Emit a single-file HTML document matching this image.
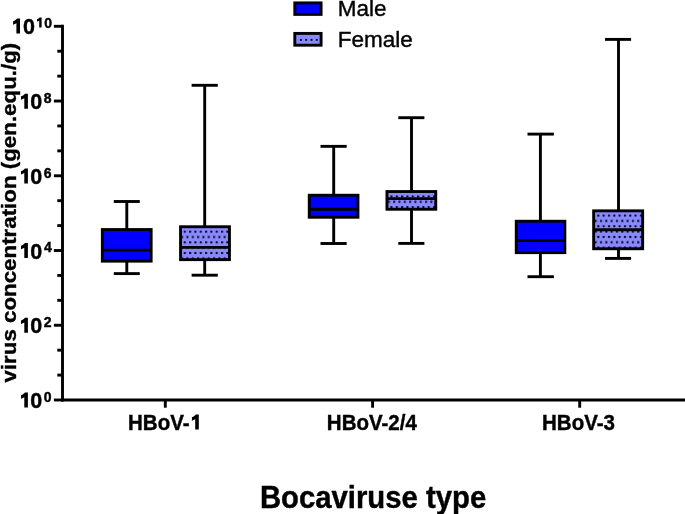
<!DOCTYPE html>
<html><head><meta charset="utf-8"><style>
html,body{margin:0;padding:0;background:#fff;}
svg{display:block;}
text{font-family:"Liberation Sans",sans-serif;fill:#000;stroke:#000;stroke-width:0.4px;}
.b0{font-weight:bold;font-size:21.5px;}
.sp{font-weight:bold;font-size:14.0px;}
.xl{font-weight:bold;font-size:20.5px;}
.tt{font-weight:bold;font-size:29.3px;}
.yt{font-weight:bold;font-size:22.33px;}
.lg{font-size:22.5px;}
</style></head><body>
<svg width="685" height="514" viewBox="0 0 685 514">
<defs><pattern id="p1" patternUnits="userSpaceOnUse" x="182.80" y="229.70" width="5.32" height="10.66"><rect width="5.32" height="10.66" fill="#8989ff"/><rect x="1" y="1" width="2" height="2" fill="#000"/><rect x="-1.660" y="6.330" width="2" height="2" fill="#000"/><rect x="3.660" y="6.330" width="2" height="2" fill="#000"/></pattern><pattern id="p3" patternUnits="userSpaceOnUse" x="389.50" y="194.50" width="5.32" height="10.66"><rect width="5.32" height="10.66" fill="#8989ff"/><rect x="1" y="1" width="2" height="2" fill="#000"/><rect x="-1.660" y="6.330" width="2" height="2" fill="#000"/><rect x="3.660" y="6.330" width="2" height="2" fill="#000"/></pattern><pattern id="p5" patternUnits="userSpaceOnUse" x="596.35" y="213.60" width="5.32" height="10.66"><rect width="5.32" height="10.66" fill="#8989ff"/><rect x="1" y="1" width="2" height="2" fill="#000"/><rect x="-1.660" y="6.330" width="2" height="2" fill="#000"/><rect x="3.660" y="6.330" width="2" height="2" fill="#000"/></pattern>

</defs>
<g stroke="#000" stroke-width="2.9" fill="none">
<line x1="62.5" y1="24.85" x2="62.5" y2="401.45" />
<line x1="61.05" y1="400.0" x2="685" y2="400.0" />
<line x1="53.9" y1="26.30" x2="62.5" y2="26.30" />
<line x1="57.3" y1="51.21" x2="62.5" y2="51.21" />
<line x1="57.3" y1="76.13" x2="62.5" y2="76.13" />
<line x1="53.9" y1="101.04" x2="62.5" y2="101.04" />
<line x1="57.3" y1="125.95" x2="62.5" y2="125.95" />
<line x1="57.3" y1="150.87" x2="62.5" y2="150.87" />
<line x1="53.9" y1="175.78" x2="62.5" y2="175.78" />
<line x1="57.3" y1="200.69" x2="62.5" y2="200.69" />
<line x1="57.3" y1="225.61" x2="62.5" y2="225.61" />
<line x1="53.9" y1="250.52" x2="62.5" y2="250.52" />
<line x1="57.3" y1="275.43" x2="62.5" y2="275.43" />
<line x1="57.3" y1="300.35" x2="62.5" y2="300.35" />
<line x1="53.9" y1="325.26" x2="62.5" y2="325.26" />
<line x1="57.3" y1="350.17" x2="62.5" y2="350.17" />
<line x1="57.3" y1="375.09" x2="62.5" y2="375.09" />
<line x1="53.9" y1="400.00" x2="62.5" y2="400.00" />
<line x1="165.3" y1="400.0" x2="165.3" y2="407.7" />
<line x1="372.6" y1="400.0" x2="372.6" y2="407.7" />
<line x1="579.7" y1="400.0" x2="579.7" y2="407.7" />
</g>
<g stroke="#000" stroke-width="2.9">
<line x1="126.8" y1="201.5" x2="126.8" y2="229.55" />
<line x1="126.8" y1="261.15" x2="126.8" y2="273.6" />
<line x1="113.8" y1="201.5" x2="139.8" y2="201.5" />
<line x1="113.8" y1="273.6" x2="139.8" y2="273.6" />
<rect x="102.35" y="229.55" width="48.80" height="31.60" fill="#0000ff" />
<line x1="102.35" y1="250.1" x2="151.15" y2="250.1" />
<line x1="204.7" y1="85.3" x2="204.7" y2="226.75" />
<line x1="204.7" y1="259.65" x2="204.7" y2="275.2" />
<line x1="191.6" y1="85.3" x2="217.8" y2="85.3" />
<line x1="191.6" y1="275.2" x2="217.8" y2="275.2" />
<rect x="180.55" y="226.75" width="48.90" height="32.90" fill="url(#p1)" />
<line x1="180.55" y1="247.4" x2="229.45" y2="247.4" />
<line x1="333.7" y1="146.35" x2="333.7" y2="195.25" />
<line x1="333.7" y1="217.25" x2="333.7" y2="243.5" />
<line x1="320.5" y1="146.35" x2="346.7" y2="146.35" />
<line x1="320.5" y1="243.5" x2="346.7" y2="243.5" />
<rect x="309.25" y="195.25" width="48.70" height="22.00" fill="#0000ff" />
<line x1="309.25" y1="209.3" x2="357.95" y2="209.3" />
<line x1="411.5" y1="117.7" x2="411.5" y2="191.55" />
<line x1="411.5" y1="209.25" x2="411.5" y2="243.4" />
<line x1="398.3" y1="117.7" x2="424.4" y2="117.7" />
<line x1="398.3" y1="243.4" x2="424.4" y2="243.4" />
<rect x="386.95" y="191.55" width="48.80" height="17.70" fill="url(#p3)" />
<line x1="386.95" y1="198.6" x2="435.75" y2="198.6" />
<line x1="540.4" y1="134.1" x2="540.4" y2="221.25" />
<line x1="540.4" y1="252.65" x2="540.4" y2="276.7" />
<line x1="527.5" y1="134.1" x2="553.9" y2="134.1" />
<line x1="527.5" y1="276.7" x2="553.9" y2="276.7" />
<rect x="516.25" y="221.25" width="48.60" height="31.40" fill="#0000ff" />
<line x1="516.25" y1="240.55" x2="564.85" y2="240.55" />
<line x1="618.5" y1="39.4" x2="618.5" y2="210.85" />
<line x1="618.5" y1="248.75" x2="618.5" y2="258.4" />
<line x1="605.0" y1="39.4" x2="631.1" y2="39.4" />
<line x1="605.0" y1="258.4" x2="631.1" y2="258.4" />
<rect x="593.65" y="210.85" width="49.00" height="37.90" fill="url(#p5)" />
<line x1="593.65" y1="229.7" x2="642.65" y2="229.7" />
</g>
<g style="filter:grayscale(1)">
<g id="t_y10"><path d="M 0 0 H 3.6 V -15 H 0.6 C 0 -13.8 -1.6 -12.8 -3.3 -12.3 V -8.95 C -2 -9.3 -0.9 -9.7 0 -10.3 Z" transform="translate(16.40,33.60) scale(1.0)"/><text class="b0" transform="translate(22.95,34.30) scale(1,1.0)">0</text><path d="M 0 0 H 3.6 V -15 H 0.6 C 0 -13.8 -1.6 -12.8 -3.3 -12.3 V -8.95 C -2 -9.3 -0.9 -9.7 0 -10.3 Z" transform="translate(39.20,27.60) scale(0.673)"/><text class="sp" x="44.15" y="28.15">0</text></g>
<g id="t_y8"><path d="M 0 0 H 3.6 V -15 H 0.6 C 0 -13.8 -1.6 -12.8 -3.3 -12.3 V -8.95 C -2 -9.3 -0.9 -9.7 0 -10.3 Z" transform="translate(24.30,108.64) scale(1.0)"/><text class="b0" transform="translate(30.20,109.04) scale(1,1.0)">0</text><text class="sp" x="43.76" y="102.94">8</text></g>
<g id="t_y6"><path d="M 0 0 H 3.6 V -15 H 0.6 C 0 -13.8 -1.6 -12.8 -3.3 -12.3 V -8.95 C -2 -9.3 -0.9 -9.7 0 -10.3 Z" transform="translate(24.30,183.38) scale(1.0)"/><text class="b0" transform="translate(30.20,183.78) scale(1,1.0)">0</text><text class="sp" x="43.69" y="177.68">6</text></g>
<g id="t_y4"><path d="M 0 0 H 3.6 V -15 H 0.6 C 0 -13.8 -1.6 -12.8 -3.3 -12.3 V -8.95 C -2 -9.3 -0.9 -9.7 0 -10.3 Z" transform="translate(24.30,258.12) scale(1.0)"/><text class="b0" transform="translate(30.20,258.52) scale(1,1.0)">0</text><text class="sp" x="43.99" y="252.42">4</text></g>
<g id="t_y2"><path d="M 0 0 H 3.6 V -15 H 0.6 C 0 -13.8 -1.6 -12.8 -3.3 -12.3 V -8.95 C -2 -9.3 -0.9 -9.7 0 -10.3 Z" transform="translate(24.30,332.86) scale(1.0)"/><text class="b0" transform="translate(30.20,333.26) scale(1,1.0)">0</text><text class="sp" x="43.71" y="327.16">2</text></g>
<g id="t_y0"><path d="M 0 0 H 3.6 V -15 H 0.6 C 0 -13.8 -1.6 -12.8 -3.3 -12.3 V -8.95 C -2 -9.3 -0.9 -9.7 0 -10.3 Z" transform="translate(24.30,407.60) scale(1.0)"/><text class="b0" transform="translate(30.20,408.00) scale(1,1.0)">0</text><text class="sp" x="43.65" y="401.90">0</text></g>
<g id="t_x1"><text class="xl" transform="translate(128.03,429.6) scale(1,1.08)">HBoV-</text><path d="M 0 0 H 3.6 V -15 H 0.6 C 0 -13.8 -1.6 -12.8 -3.3 -12.3 V -8.95 C -2 -9.3 -0.9 -9.7 0 -10.3 Z" transform="translate(195.20,429.60) scale(1.0)"/></g>
<text id="t_x2" class="xl" transform="translate(326.83,429.6) scale(1,1.08)">HBoV-2/4</text>
<text id="t_x3" class="xl" transform="translate(542.03,429.6) scale(1,1.08)">HBoV-3</text>
<text id="t_tt" class="tt" transform="translate(373.05,507.8) scale(1,1.06)" text-anchor="middle">Bocaviruse type</text>
<text id="t_yt" class="yt" transform="translate(15.8,382.5) rotate(-90) scale(1,0.94)">virus concentration (gen.equ./g)</text>
<text id="t_male" class="lg" transform="translate(337.8,15.8) scale(1,1.01)">Male</text>
<text id="t_fem" class="lg" transform="translate(337.8,46.6) scale(1,1.01)">Female</text>
</g>
<rect x="294.8" y="2.9" width="26.3" height="11.5" fill="#0000ff" stroke="#000" stroke-width="2.9"/>
<rect x="294.8" y="33.4" width="26.3" height="11.8" fill="#8989ff" stroke="#000" stroke-width="2.9"/>
<rect x="299.95" y="38.9" width="1.9" height="1.9" fill="#000"/><rect x="305.25" y="38.9" width="1.9" height="1.9" fill="#000"/><rect x="310.55" y="38.9" width="1.9" height="1.9" fill="#000"/><rect x="315.85" y="38.9" width="1.9" height="1.9" fill="#000"/>
</svg>
</body></html>
